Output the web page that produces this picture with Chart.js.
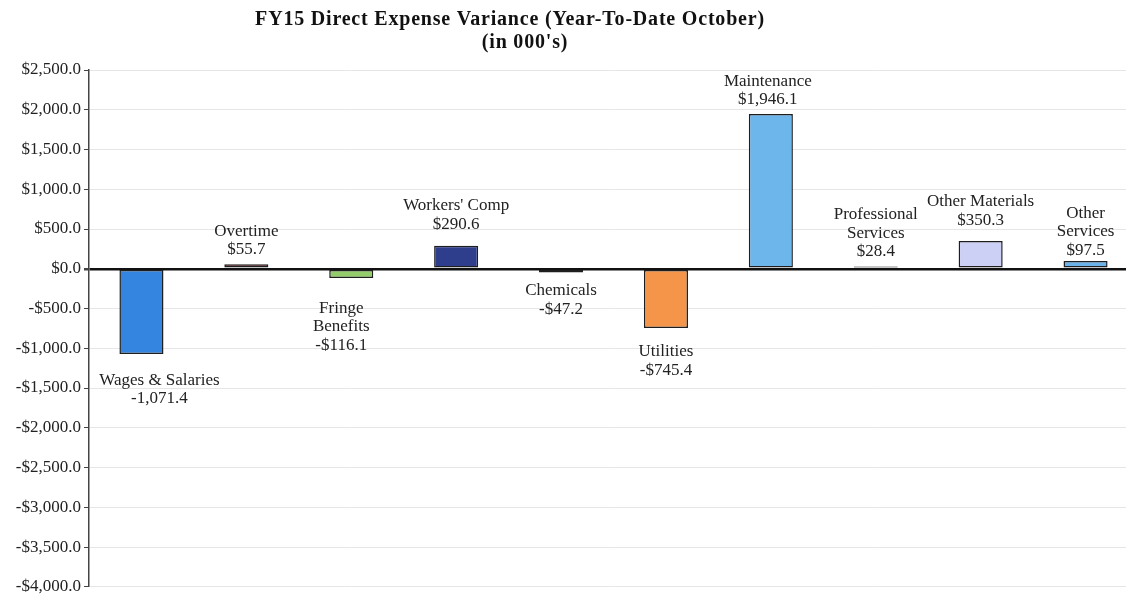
<!DOCTYPE html>
<html>
<head>
<meta charset="utf-8">
<script src="https://cdn.jsdelivr.net/npm/chart.js@4/dist/chart.umd.min.js"></script>
<style>
  html, body { margin: 0; padding: 0; background: #ffffff; overflow: hidden; }
  #wrap { width: 1138px; height: 600px; position: relative; }
</style>
</head>
<body>
<div id="wrap"><canvas id="c"></canvas></div>
<script>
const categories = ['Wages & Salaries', 'Overtime', 'Fringe Benefits', "Workers' Comp", 'Chemicals',
  'Utilities', 'Maintenance', 'Professional Services', 'Other Materials', 'Other Services'];
const labelLines = [['Wages & Salaries'], ['Overtime'], ['Fringe', 'Benefits'], ["Workers' Comp"], ['Chemicals'],
  ['Utilities'], ['Maintenance'], ['Professional', 'Services'], ['Other Materials'], ['Other', 'Services']];
const variance = [-1071.4, 55.7, -116.1, 290.6, -47.2, -745.4, 1946.1, 28.4, 350.3, 97.5];
const valueText = ['-1,071.4', '$55.7', '-$116.1', '$290.6', '-$47.2', '-$745.4', '$1,946.1', '$28.4', '$350.3', '$97.5'];
const barColors = ['#3385e0', '#9b1c22', '#93cc6a', '#2f3e8c', '#2f6fa0', '#f5954a', '#6db6ec', '#2d5a3a', '#cdd0f5', '#6ab2ea'];
const titleLines = ["FY15 Direct Expense Variance (Year-To-Date October)", "(in 000's)"];

const SERIF = '"Liberation Serif", "Times New Roman", serif';
// label pixel offsets (styling only)
const labelGap = [18, 6, 22, 13, 10, 15, 6, 6, 12, 2];
const labelDx = [18, 0, -10, 0, 0, 0, -3, 0, 0, 0];

const titlePlugin = {
  id: 'titleDraw',
  afterDraw(chart) {
    const ctx = chart.ctx;
    ctx.save();
    ctx.fillStyle = '#111';
    ctx.font = 'bold 20px ' + SERIF;
    if ('letterSpacing' in ctx) ctx.letterSpacing = '0.8px';
    ctx.textAlign = 'center';
    ctx.textBaseline = 'middle';
    ctx.fillText(titleLines[0], 510, 20);
    ctx.fillText(titleLines[1], 525, 43);
    ctx.restore();
  }
};

const labelPlugin = {
  id: 'barLabels',
  afterDatasetsDraw(chart) {
    const ctx = chart.ctx;
    const meta = chart.getDatasetMeta(0);
    ctx.save();
    ctx.fillStyle = '#222';
    ctx.font = '17px ' + SERIF;
    ctx.textAlign = 'center';
    const lh = 18.5;
    meta.data.forEach((bar, i) => {
      const lines = labelLines[i].concat([valueText[i]]);
      const x = bar.x + labelDx[i];
      const v = variance[i];
      if (v >= 0) {
        ctx.textBaseline = 'bottom';
        const top = bar.y - labelGap[i];
        for (let k = 0; k < lines.length; k++) {
          ctx.fillText(lines[lines.length - 1 - k], x, top - k * lh);
        }
      } else {
        ctx.textBaseline = 'top';
        const start = bar.y + labelGap[i];
        for (let k = 0; k < lines.length; k++) {
          ctx.fillText(lines[k], x, start + k * lh);
        }
      }
    });
    ctx.restore();
  }
};

function money(v) {
  const a = Math.abs(v).toLocaleString('en-US', { minimumFractionDigits: 1, maximumFractionDigits: 1 });
  return (v < 0 ? '-$' : '$') + a;
}

new Chart(document.getElementById('c'), {
  type: 'bar',
  data: {
    labels: categories,
    datasets: [{
      data: variance,
      backgroundColor: barColors,
      borderColor: '#1e1e1e',
      borderWidth: 1.5,
      borderSkipped: false,
      categoryPercentage: 1.0,
      barPercentage: 0.42
    }]
  },
  options: {
    responsive: true,
    maintainAspectRatio: false,
    animation: false,
    devicePixelRatio: 1,
    layout: { padding: { top: 70, right: 0, bottom: 10, left: 0 } },
    plugins: { legend: { display: false }, title: { display: false }, tooltip: { enabled: false } },
    scales: {
      x: { display: false },
      y: {
        min: -4000,
        max: 2500,
        afterFit(scale) { scale.width = 89; },
        ticks: {
          stepSize: 500,
          color: '#222',
          font: { family: SERIF, size: 17 },
          padding: 3,
          callback: (v) => money(v)
        },
        grid: {
          color: (c) => c.tick && c.tick.value === 0 ? '#111' : '#e6e6e6',
          lineWidth: (c) => c.tick && c.tick.value === 0 ? 2.5 : 1,
          tickColor: '#444',
          tickLength: 5,
          drawOnChartArea: true
        },
        border: { display: true, color: '#444', width: 1.5 }
      }
    }
  },
  plugins: [titlePlugin, labelPlugin]
});
</script>
</body>
</html>
